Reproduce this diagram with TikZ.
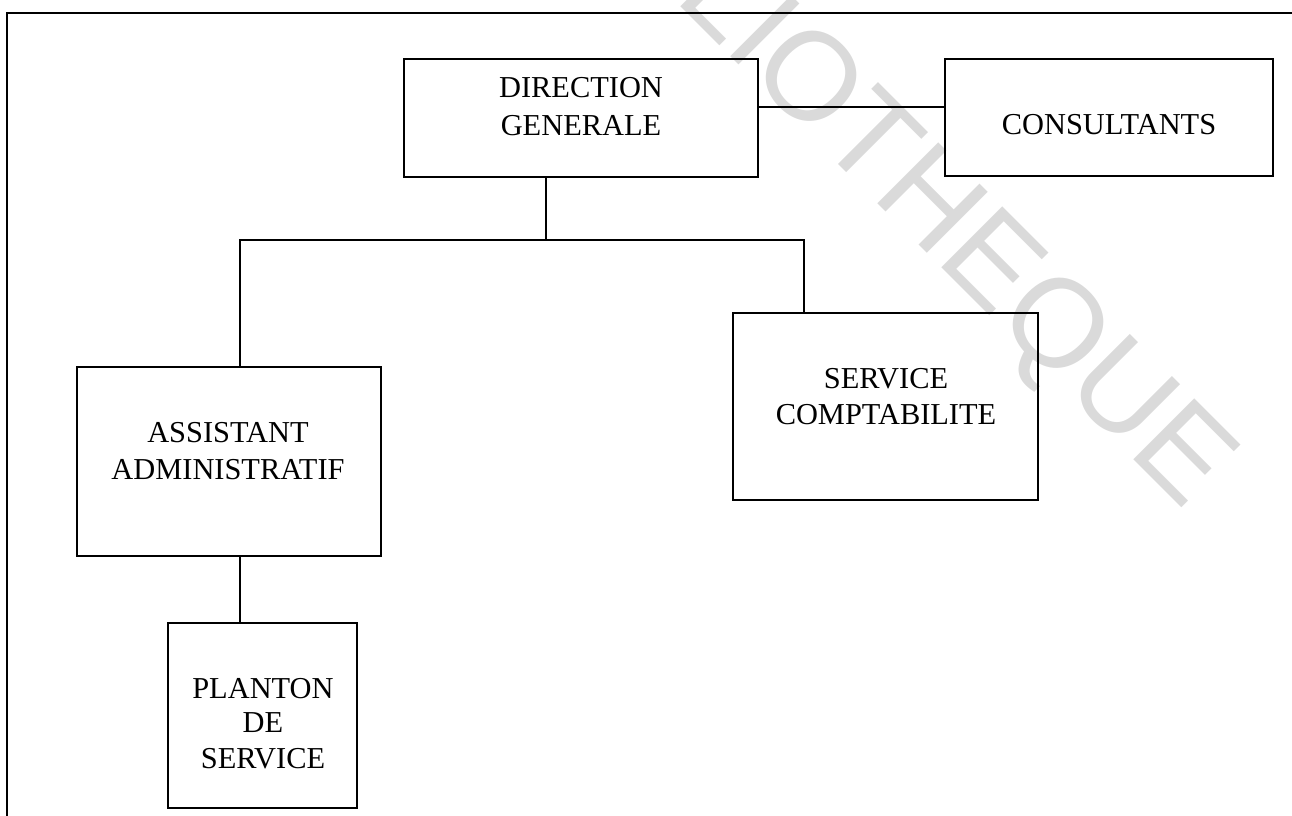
\documentclass[tikz,border=0pt]{standalone}
\usepackage{fontspec}
\setmainfont{Liberation Serif}
\newfontfamily\wmfont{Liberation Sans}
\definecolor{wmgray}{RGB}{218,218,218}
\tikzset{
  orgbox/.style={draw, line width=1.4pt, inner sep=0pt, outer sep=0pt},
  lbl/.style={inner sep=0pt, anchor=base, font=\fontsize{22.8}{27}\selectfont},
  link/.style={line width=1.4pt},
  wm/.style={inner sep=0pt, anchor=base west, rotate=-45, text=wmgray, font=\wmfont\fontsize{94}{100}\selectfont}
}
\begin{document}
\begin{tikzpicture}[x=0.75pt, y=-0.75pt]
\useasboundingbox (0,0) rectangle (1292,815);
\clip (0,0) rectangle (1292,815);
% watermark
\node[wm] (wmark) at (530,-144) {BIBLIOTHEQUE};
% frame
\coordinate (fbl) at (7,830);
\coordinate (ftl) at (7,13);
\coordinate (ftr) at (1300,13);
\draw[link] (fbl) -- (ftl) -- (ftr);
% boxes
\node[orgbox, minimum width=265.5pt, minimum height=88.5pt] (dg) at (581,118) {};
\node[orgbox, minimum width=246pt, minimum height=87.75pt] (cons) at (1109,117.5) {};
\node[orgbox, minimum width=228.75pt, minimum height=140.25pt] (sc) at (885.5,406.5) {};
\node[orgbox, minimum width=228pt, minimum height=141.75pt] (aa) at (229,461.5) {};
\node[orgbox, minimum width=141.75pt, minimum height=138.75pt] (ps) at (262.5,715.5) {};
% labels
\node[lbl] (dg1) at (581,97) {DIRECTION};
\node[lbl] (dg2) at (581,135) {GENERALE};
\node[lbl] (cons1) at (1109,134) {CONSULTANTS};
\node[lbl] (sc1) at (886,388) {SERVICE};
\node[lbl] (sc2) at (886,424) {COMPTABILITE};
\node[lbl] (aa1) at (228,442) {ASSISTANT};
\node[lbl] (aa2) at (228,479) {ADMINISTRATIF};
\node[lbl] (ps1) at (263,698) {PLANTON};
\node[lbl] (ps2) at (263,732) {DE};
\node[lbl] (ps3) at (263,768) {SERVICE};
% connectors
\coordinate (hc) at (850,107);
\coordinate (busL) at (240,240);
\coordinate (busM) at (546,240);
\coordinate (busR) at (804,240);
\draw[link] (dg.east |- hc) -- (cons.west |- hc);
\draw[link] (busM |- dg.south) -- (busM);
\draw[link] (busL |- aa.north) -- (busL) -- (busR) -- (busR |- sc.north);
\draw[link] (busL |- aa.south) -- (busL |- ps.north);
\end{tikzpicture}
\end{document}
